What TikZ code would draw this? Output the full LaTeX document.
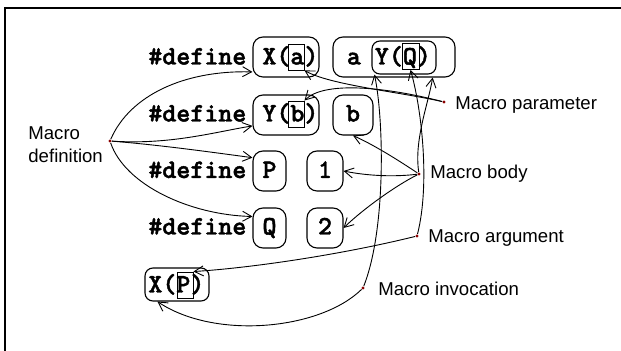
\documentclass[tikz,border=0pt]{standalone}
\usepackage{fontspec}
\setmainfont{Liberation Sans}
\newfontfamily\courb{lmmonolt10-bold.otf}[FakeBold=1.6]
\usetikzlibrary{arrows.meta}
\begin{document}
\begin{tikzpicture}[x=0.5pt,y=-0.5pt,
  rbox/.style={draw, rounded corners=5pt, inner sep=0pt, line width=0.55pt},
  sbox/.style={draw, inner sep=0pt, line width=0.45pt},
  code/.style={inner sep=0pt, font=\fontsize{13.33}{15}\selectfont\courb},
  lbl/.style={inner sep=0pt, anchor=base west, font=\fontsize{9.3}{11}\selectfont},
  dot/.style={circle, fill=red!55!black, inner sep=0pt, minimum size=1.6pt},
  conn/.style={line width=0.45pt, -{Straight Barb[length=4.5pt,width=5pt]}},
]
\useasboundingbox (0,0) rectangle (621,351);
\draw[line width=1pt] (5,351) -- (5,8) -- (621,8);

% row 1
\node[code, anchor=base west] (d1) at (148,64.5) {\#define};
\node[rbox, minimum width=33pt, minimum height=20pt] (Xa) at (286,57) {};
\node[sbox, minimum width=8pt, minimum height=13pt] (sqa) at (296,57) {};
\node[code, anchor=base west] (tXa) at (262,64.5) {X(a)};
\node[rbox, minimum width=61pt, minimum height=20pt] (AYQ) at (394,57) {};
\node[rbox, rounded corners=4pt, minimum width=32pt, minimum height=16.5pt] (YQ) at (404,57.5) {};
\node[sbox, minimum width=8.5pt, minimum height=13pt] (sqQ) at (410.5,56.5) {};
\node[code, anchor=base west] (tAYQ) at (346.5,64.5) {a Y(Q)};

% row 2
\node[code, anchor=base west] (d2) at (148,121.5) {\#define};
\node[rbox, minimum width=33pt, minimum height=20pt] (Yb) at (286,115) {};
\node[sbox, minimum width=8pt, minimum height=13pt] (sqb) at (296,114) {};
\node[code, anchor=base west] (tYb) at (262,121.5) {Y(b)};
\node[rbox, minimum width=20pt, minimum height=20pt] (bb) at (353,115) {};
\node[code, anchor=base] (tb) at (353,121.5) {b};

% row 3
\node[code, anchor=base west] (d3) at (148,178) {\#define};
\node[rbox, minimum width=16.5pt, minimum height=20pt] (P) at (269.5,171) {};
\node[code, anchor=base] (tP) at (269.5,178) {P};
\node[rbox, minimum width=18pt, minimum height=20pt] (one) at (325,171) {};
\node[code, anchor=base] (t1) at (325,178) {1};

% row 4
\node[code, anchor=base west] (d4) at (148,234.5) {\#define};
\node[rbox, minimum width=16.5pt, minimum height=20pt] (Q) at (269.5,228) {};
\node[code, anchor=base] (tQ) at (269.5,234.5) {Q};
\node[rbox, minimum width=18pt, minimum height=20pt] (two) at (325,228) {};
\node[code, anchor=base] (t2) at (325,234.5) {2};

% X(P)
\node[rbox, rounded corners=4pt, minimum width=32pt, minimum height=16.5pt] (XP) at (177,284.5) {};
\node[sbox, minimum width=8pt, minimum height=13pt] (sqP) at (185,285) {};
\node[code, anchor=base west] (tXP) at (148,292.5) {X(P)};

% labels
\node[lbl] (ldef1) at (28,140) {Macro};
\node[lbl] (ldef2) at (28,163) {definition};
\node[lbl] (lpar) at (455,110) {Macro parameter};
\node[lbl] (lbody) at (430,179) {Macro body};
\node[lbl] (larg) at (428,243) {Macro argument};
\node[lbl] (linv) at (378,296) {Macro invocation};

% dots
\node[dot] (pD) at (110,141) {};
\node[dot] (pM) at (444,102) {};
\node[dot] (pB) at (419,174) {};
\node[dot] (pA) at (417,236) {};
\node[dot] (pI) at (363,288) {};

% connectors
\draw[conn] (pD) .. controls (130,95) and (185,70) .. (Xa.204);
\draw[conn] (pD) .. controls (170,145) and (215,132) .. (Yb.198);
\draw[conn] (pD) .. controls (160,145) and (210,152) .. (P.142);
\draw[conn] (pD) .. controls (125,185) and (190,215) .. (Q.146);
\draw[conn] (pM) .. controls (400,92) and (330,85) .. (sqa.south east);
\draw[conn] (pM) .. controls (390,88) and (325,80) .. (sqb.north east);
\draw[conn] (pB) .. controls (395,158) and (372,144) .. (bb.south);
\draw[conn] (pB) .. controls (395,177) and (368,176) .. (one.east);
\draw[conn] (pB) .. controls (395,186) and (362,210) .. (two.east);
\draw[conn] (pB) .. controls (414,140) and (428,105) .. (AYQ.-28);
\draw[conn] (pA) .. controls (430,185) and (422,110) .. (sqQ.south);
\draw[conn] (pA) .. controls (340,255) and (250,268) .. (sqP.north east);
\draw[conn] (pI) .. controls (386,230) and (384,120) .. (YQ.210);
\draw[conn] (pI) .. controls (320,330) and (215,340) .. (XP.221);
\end{tikzpicture}
\end{document}
